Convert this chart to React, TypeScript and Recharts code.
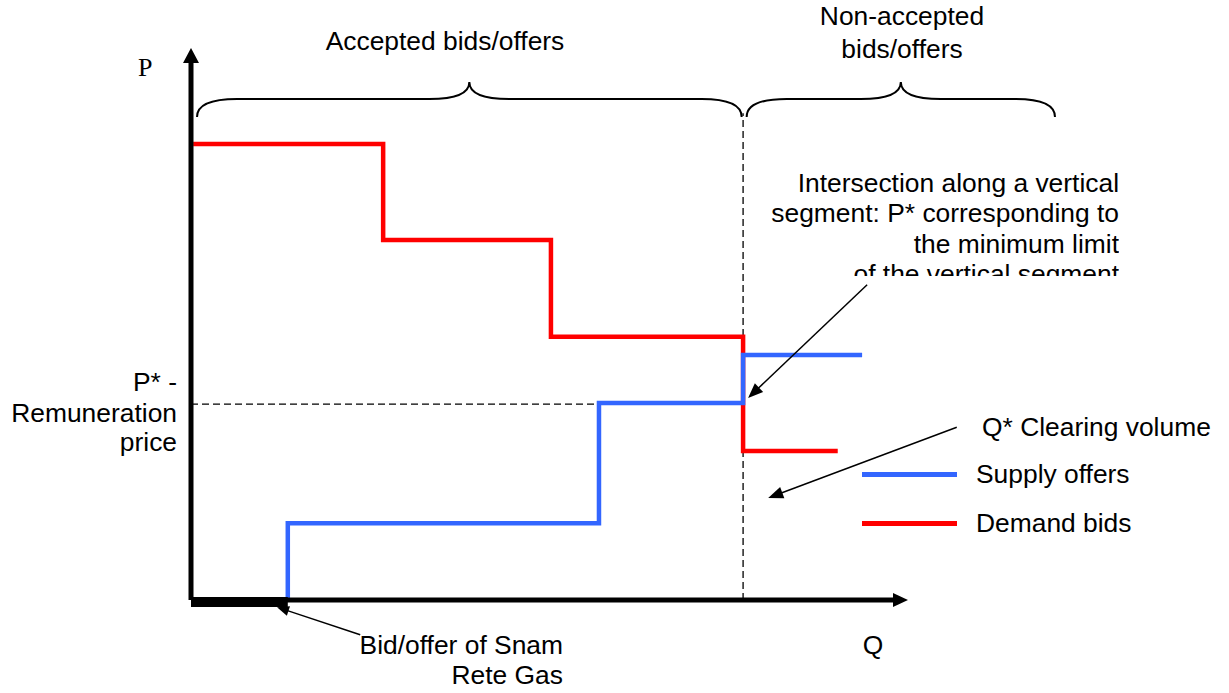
import React from 'react';
import { ComposedChart, Line, XAxis, YAxis, ReferenceLine, Legend } from 'recharts';

// step curves (Q and P in 0-100 chart units)
const demandQ = [0.3, 26.8, 50.2, 77.0, 90.2];
const demandP = [82.6, 65.2, 47.7, 27.0, 27.0];
const supplyQ = [13.5, 13.5, 56.9, 77.0, 93.6];
const supplyP = [0, 13.9, 35.7, 44.4, 44.4];

const clearingQ = 77.0;
const clearingP = 35.5;
const snamQ = 13.5;

const seriesNames = ['Supply offers', 'Demand bids'];
const seriesColors = ['#3366ff', '#ff0000'];

const demandData = demandQ.map((q, i) => ({ q, p: demandP[i] }));
const supplyData = supplyQ.map((q, i) => ({ q, p: supplyP[i] }));

const W = 1229;
const H = 693;
const FONT = '"Liberation Sans", Arial, sans-serif';
const FS = 26.4;

const arrowShape = (head: number, half: number, width: number) => (props: any) => {
  const { x1, y1, x2, y2 } = props;
  const dx = x2 - x1;
  const dy = y2 - y1;
  const len = Math.hypot(dx, dy) || 1;
  const ux = dx / len;
  const uy = dy / len;
  const bx = x2 - ux * head;
  const by = y2 - uy * head;
  const pts = `${x2},${y2} ${bx - uy * half},${by + ux * half} ${bx + uy * half},${by - ux * half}`;
  return (
    <g>
      <line x1={x1} y1={y1} x2={bx + ux} y2={by + uy} stroke="#000" strokeWidth={width} />
      <polygon points={pts} fill="#000" />
    </g>
  );
};

// curly brace opening downwards, drawn between the two segment ends
const braceShape = (props: any) => {
  const { x1, y1, x2 } = props;
  const cx = (x1 + x2) / 2;
  const h = y1 - 18;
  const t = y1 - 35;
  const d =
    `M${x1},${y1} C${x1},${h + 6} ${x1 + 14},${h} ${x1 + 40},${h} ` +
    `L${cx - 40},${h} C${cx - 14},${h} ${cx},${h - 5} ${cx},${t} ` +
    `C${cx},${h - 5} ${cx + 14},${h} ${cx + 40},${h} ` +
    `L${x2 - 40},${h} C${x2 - 14},${h} ${x2},${h + 6} ${x2},${y1}`;
  return <path d={d} fill="none" stroke="#000" strokeWidth={2} />;
};

const Txt = ({ x, y, align = 'left', serif, children }: any) => {
  const style: React.CSSProperties = {
    position: 'absolute',
    top: y - 14,
    fontSize: serif ? 26 : FS,
    lineHeight: '26px',
    fontFamily: serif ? '"Liberation Serif", "Times New Roman", serif' : FONT,
    color: '#000',
    whiteSpace: 'nowrap',
  };
  if (align === 'right') {
    style.right = W - x;
    style.textAlign = 'right';
  } else if (align === 'center') {
    style.left = x - 250;
    style.width = 500;
    style.textAlign = 'center';
  } else {
    style.left = x;
  }
  return <div style={style}>{children}</div>;
};

const LegendBox = ({ payload }: any) => {
  const items = seriesNames.map((name, i) => {
    const found = (payload || []).find((p: any) => p.value === name);
    return { name, color: found ? found.color : seriesColors[i] };
  });
  return (
    <div style={{ fontFamily: FONT }}>
      {items.map((it) => (
        <div key={it.name} style={{ display: 'flex', alignItems: 'center', height: 49 }}>
          <div style={{ width: 95, height: 5, background: it.color }} />
          <span style={{ marginLeft: 19, fontSize: FS, color: '#000' }}>{it.name}</span>
        </div>
      ))}
    </div>
  );
};

export default function App() {
  return (
    <div style={{ position: 'absolute', left: 0, top: 0, width: W, height: H, background: '#fff' }}>
      <ComposedChart
        width={W}
        height={H}
        margin={{ top: 48, left: 191, right: W - 908, bottom: H - 600 }}
      >
        <XAxis dataKey="q" type="number" domain={[0, 100]} hide allowDuplicatedCategory={false} />
        <YAxis dataKey="p" type="number" domain={[0, 100]} hide />

        {/* braces over accepted / non-accepted parts */}
        <ReferenceLine segment={[{ x: 0.84, y: 87.5 }, { x: 76.8, y: 87.5 }]} ifOverflow="visible" shape={braceShape} />
        <ReferenceLine segment={[{ x: 77.5, y: 87.5 }, { x: 120.5, y: 87.5 }]} ifOverflow="visible" shape={braceShape} />

        {/* clearing price / volume guides */}
        <ReferenceLine
          segment={[{ x: 0, y: clearingP }, { x: clearingQ, y: clearingP }]}
          ifOverflow="visible"
          stroke="#000"
          strokeWidth={1.3}
          strokeDasharray="7 4"
        />
        <ReferenceLine
          segment={[{ x: clearingQ, y: 0 }, { x: clearingQ, y: 88.2 }]}
          ifOverflow="visible"
          stroke="#000"
          strokeWidth={1.3}
          strokeDasharray="7 4"
        />

        <Line
          data={demandData}
          dataKey="p"
          name={seriesNames[1]}
          type="stepAfter"
          stroke={seriesColors[1]}
          strokeWidth={4.5}
          dot={false}
          activeDot={false}
          isAnimationActive={false}
        />
        <Line
          data={supplyData}
          dataKey="p"
          name={seriesNames[0]}
          type="stepAfter"
          stroke={seriesColors[0]}
          strokeWidth={4.5}
          dot={false}
          activeDot={false}
          isAnimationActive={false}
        />

        {/* axes with arrow heads */}
        <ReferenceLine segment={[{ x: 0, y: 0 }, { x: 0, y: 100 }]} ifOverflow="visible" shape={arrowShape(15, 8, 5)} />
        <ReferenceLine segment={[{ x: 0, y: 0 }, { x: 100, y: 0 }]} ifOverflow="visible" shape={arrowShape(15, 7, 5)} />
        {/* Snam Rete Gas bid/offer on the Q axis */}
        <ReferenceLine
          segment={[{ x: 0, y: -0.36 }, { x: snamQ, y: -0.36 }]}
          ifOverflow="visible"
          stroke="#000"
          strokeWidth={10}
        />

        {/* annotation arrows */}
        <ReferenceLine segment={[{ x: 94.3, y: 57.1 }, { x: 77.7, y: 36.6 }]} ifOverflow="visible" shape={arrowShape(15, 6, 1.5)} />
        <ReferenceLine segment={[{ x: 106.8, y: 31.3 }, { x: 80.5, y: 18.5 }]} ifOverflow="visible" shape={arrowShape(15, 6, 1.5)} />
        <ReferenceLine segment={[{ x: 23.6, y: -6.3 }, { x: 12.0, y: -1.3 }]} ifOverflow="visible" shape={arrowShape(12, 5, 1.5)} />

        <Legend
          layout="horizontal"
          verticalAlign="middle"
          align="center"
          content={<LegendBox />}
          wrapperStyle={{ position: 'absolute', left: 862, top: 450, width: 360 }}
        />
      </ComposedChart>

      <Txt x={138} y={69} serif>P</Txt>
      <Txt x={445} y={42} align="center">Accepted bids/offers</Txt>
      <Txt x={902} y={17} align="center">Non-accepted</Txt>
      <Txt x={902} y={50} align="center">bids/offers</Txt>

      <div
        style={{
          position: 'absolute',
          right: W - 1119,
          top: 168,
          height: 108,
          overflow: 'hidden',
          textAlign: 'right',
          fontFamily: FONT,
          fontSize: FS,
          lineHeight: '30.3px',
          whiteSpace: 'nowrap',
        }}
      >
        <div>Intersection along a vertical</div>
        <div>segment: P* corresponding to</div>
        <div>the minimum limit</div>
        <div>of the vertical segment</div>
      </div>

      <Txt x={177} y={383} align="right">P* -</Txt>
      <Txt x={177} y={414} align="right">Remuneration</Txt>
      <Txt x={177} y={443} align="right">price</Txt>

      <Txt x={982} y={428}>Q* Clearing volume</Txt>
      <Txt x={873} y={646} align="center">Q</Txt>
      <Txt x={563} y={646} align="right">Bid/offer of Snam</Txt>
      <Txt x={563} y={676} align="right">Rete Gas</Txt>
    </div>
  );
}
